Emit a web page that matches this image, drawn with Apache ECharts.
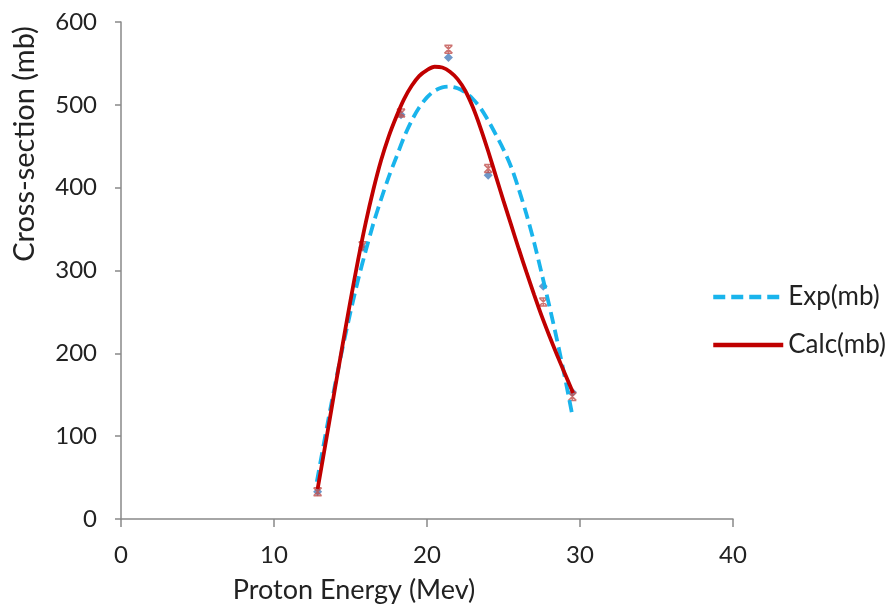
<!DOCTYPE html>
<html>
<head>
<meta charset="utf-8">
<script src="https://cdn.jsdelivr.net/npm/echarts@6/dist/echarts.min.js"></script>
<style>html,body{margin:0;padding:0;background:#fff}#c{width:891px;height:610px}</style>
</head>
<body>
<div id="c"></div>
<script>
// Measured points
var energy = [12.85, 15.8, 18.3, 21.4, 24.0, 27.6, 29.5];
var expVals = [33, 328, 488, 557, 415, 281, 153];
var calcVals = [33, 330, 490, 567, 423, 262, 148];
// Trendline curves
var expCurveX = [12.8, 13.5, 14.0, 14.5, 15.0, 15.5, 16.0, 16.5, 17.0, 17.5, 18.0, 18.5, 19.0, 19.5, 20.0, 20.5, 21.0, 21.5, 22.0, 22.5, 23.0, 23.5, 24.0, 24.5, 25.0, 25.5, 26.0, 26.5, 27.0, 27.5, 28.0, 28.5, 29.0, 29.5];
var expCurveY = [45, 115, 163, 208, 250, 289, 324, 357, 386, 413, 437, 461, 481, 497, 509, 517, 521, 522, 520, 515, 507, 496, 481, 464, 446, 425, 398, 368, 334, 296, 257, 216, 172, 125];
var calcCurveX = [12.85, 13.5, 14.0, 14.5, 15.0, 15.5, 16.0, 16.5, 17.0, 17.5, 18.0, 18.5, 19.0, 19.5, 20.0, 20.5, 21.0, 21.5, 22.0, 22.5, 23.0, 23.5, 24.0, 24.5, 25.0, 25.5, 26.0, 26.5, 27.0, 27.5, 28.0, 28.5, 29.0, 29.55];
var calcCurveY = [36, 105, 159, 212, 264, 313, 358, 398, 433, 462, 486, 507, 523, 535, 542, 546, 545, 540, 531, 517, 497, 472, 444, 414, 384, 355, 326, 298, 271, 245, 221, 198, 176, 152];
var xTicks = [0, 10, 20, 30, 40];
var yTicks = [0, 100, 200, 300, 400, 500, 600];

function zip(a, b) { return a.map(function (v, i) { return [v, b[i]]; }); }
var FONT = 'Lato';
var chart = echarts.init(document.getElementById('c'));
chart.setOption({
  animation: false,
  backgroundColor: '#fff',
  grid: { left: 121, right: 158, top: 22, bottom: 91 },
  xAxis: {
    type: 'value', min: xTicks[0], max: xTicks[xTicks.length - 1], interval: 10,
    axisLine: { lineStyle: { color: '#898989', width: 1.5 } },
    axisTick: { inside: false, length: 8, lineStyle: { color: '#898989', width: 1.5 } },
    axisLabel: { color: '#222', fontFamily: FONT, fontSize: 24, margin: 24 },
    splitLine: { show: false }
  },
  yAxis: {
    type: 'value', min: yTicks[0], max: yTicks[yTicks.length - 1], interval: 100,
    axisLine: { show: true, lineStyle: { color: '#898989', width: 1.5 } },
    axisTick: { show: true, inside: false, length: 6, lineStyle: { color: '#898989', width: 1.5 } },
    axisLabel: { color: '#222', fontFamily: FONT, fontSize: 24, margin: 24 },
    splitLine: { show: false }
  },
  legend: {
    orient: 'vertical', left: 706, top: 278, itemGap: 20,
    itemWidth: 70, itemHeight: 14,
    itemStyle: { opacity: 0 },
    lineStyle: { width: 4.5 },
    textStyle: { color: '#222', fontFamily: FONT, fontSize: 26, lineHeight: 28 },
    data: ['Exp(mb)', 'Calc(mb)']
  },
  graphic: [
    { type: 'text', x: 25, y: 144, rotation: Math.PI / 2,
      style: { text: 'Cross-section (mb)', fontFamily: FONT, fontSize: 29, fill: '#222', textAlign: 'center', textVerticalAlign: 'middle' } },
    { type: 'text', x: 354, y: 590,
      style: { text: 'Proton Energy (Mev)', fontFamily: FONT, fontSize: 27, fill: '#222', textAlign: 'center', textVerticalAlign: 'middle' } }
  ],
  series: [
    { name: 'Exp(mb)', type: 'line', smooth: 0.3, showSymbol: false, symbol: 'none',
      data: zip(expCurveX, expCurveY), z: 3,
      lineStyle: { color: '#19b4ec', width: 3.8, type: [12, 6] },
      itemStyle: { color: '#19b4ec' } },
    { name: 'Calc(mb)', type: 'line', smooth: 0.3, showSymbol: false, symbol: 'none',
      data: zip(calcCurveX, calcCurveY), z: 4,
      lineStyle: { color: '#c00000', width: 3.8 },
      itemStyle: { color: '#c00000' } },
    { name: 'Exp points', type: 'scatter', symbol: 'diamond', symbolSize: 9,
      data: zip(energy, expVals), z: 2,
      itemStyle: { color: '#4a7ebb' } },
    { name: 'Calc points', type: 'scatter',
      symbol: 'path://M0,0L10,10M10,0L0,10M0,0L10,0M0,10L10,10M5,0L5,10', symbolSize: 8,
      data: zip(energy, calcVals), z: 2,
      itemStyle: { color: 'rgba(0,0,0,0)', borderColor: '#c0504d', borderWidth: 1.5 } }
  ]
});
</script>
</body>
</html>
